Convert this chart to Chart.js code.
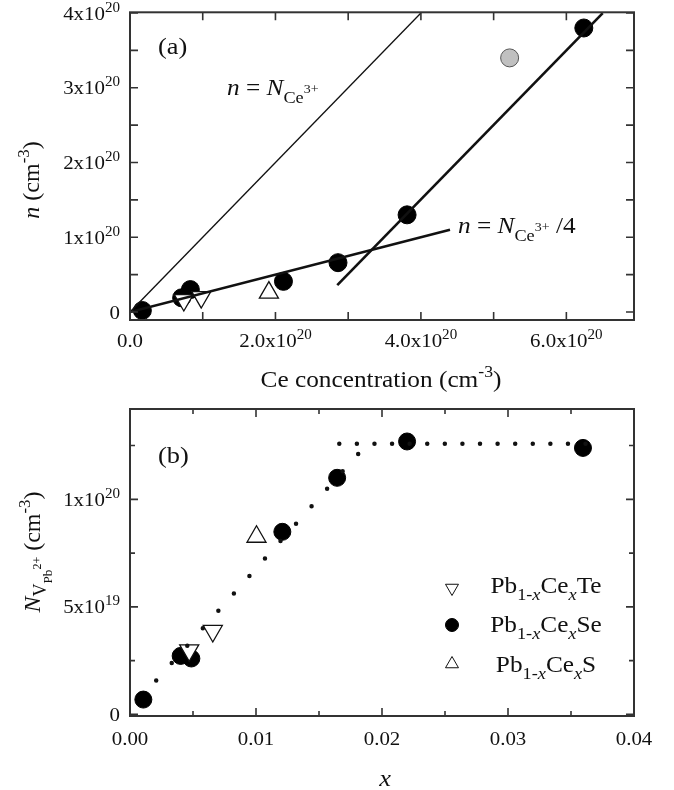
<!DOCTYPE html>
<html>
<head>
<meta charset="utf-8">
<title>Ce concentration / vacancies</title>
<script src="https://cdn.jsdelivr.net/npm/chart.js@4.4.1/dist/chart.umd.min.js"></script>
<style>
  body { margin: 0; background: #fff; }
  canvas { position: absolute; left: 0; }
  #chartA { top: 0; }
  #chartB { top: 395px; }
</style>
</head>
<body>
<canvas id="chartA" width="674" height="395"></canvas>
<canvas id="chartB" width="674" height="395"></canvas>
<script>
// ---------------- panel (a): n vs Ce concentration ----------------
const seA_x = [0.17e20, 0.71e20, 0.83e20, 2.11e20, 2.86e20, 3.81e20, 6.24e20];
const seA_y = [0.02e20, 0.19e20, 0.30e20, 0.41e20, 0.66e20, 1.30e20, 3.80e20];
const grayA_x = [5.22e20];
const grayA_y = [3.40e20];
const teA_x = [0.74e20, 0.98e20];
const teA_y = [0.16e20, 0.20e20];
const sA_x = [1.91e20];
const sA_y = [0.26e20];

// guide lines
const lineFull_x = [0, 4.0e20];
const lineFull_y = [0, 4.0e20];
const lineQuarter_x = [0, 4.4e20];
const lineQuarter_y = [0, 1.1e20];
const lineSteep_x = [2.85e20, 6.5e20];
const lineSteep_y = [0.36e20, 4.0e20];

const xTicksA = [0, 1e20, 2e20, 3e20, 4e20, 5e20, 6e20];
const xLabelsA = ['0.0', '', '2.0x10^20', '', '4.0x10^20', '', '6.0x10^20'];
const yTicksA = [0, 0.5e20, 1e20, 1.5e20, 2e20, 2.5e20, 3e20, 3.5e20, 4e20];
const yLabelsA = ['0', '', '1x10^20', '', '2x10^20', '', '3x10^20', '', '4x10^20'];

// ---------------- panel (b): N_V vs x ----------------
const seB_x = [0.00106, 0.00402, 0.00487, 0.01209, 0.01644, 0.02199, 0.03595];
const seB_y = [0.69e19, 2.72e19, 2.60e19, 8.49e19, 11.0e19, 12.69e19, 12.39e19];
const teB_x = [0.0047, 0.00657];
const teB_y = [2.98e19, 3.88e19];
const sB_x = [0.01004];
const sB_y = [8.26e19];

// dotted guide lines
const riseB_x = [0.00208, 0.01934];
const riseB_y = [1.575e19, 12.92e19];
const flatB_x = [0.01661, 0.03755];
const flatB_y = [12.58e19, 12.58e19];

const xTicksB = [0, 0.005, 0.01, 0.015, 0.02, 0.025, 0.03, 0.035, 0.04];
const xLabelsB = ['0.00', '', '0.01', '', '0.02', '', '0.03', '', '0.04'];
const yTicksB = [0, 2.5e19, 5e19, 7.5e19, 1e20, 1.25e20];
const yLabelsB = ['0', '', '5x10^19', '', '1x10^20', ''];

const FONT = '"Liberation Serif", "Times New Roman", Times, serif';
const STRETCH = 1.1; // the original figure is a bit wider than tall

function pts(xs, ys) {
  return xs.map((x, i) => ({ x: x, y: ys[i] }));
}

// text with italics / sub / superscripts
function drawRich(ctx, parts, x, y, size, align, k) {
  k = k || STRETCH;
  const font = p => (p.i ? 'italic ' : '') + (size * (p.s || 1)).toFixed(1) + 'px ' + FONT;
  let w = 0;
  parts.forEach(p => { ctx.font = font(p); w += ctx.measureText(p.t).width; });
  w *= k;
  const x0 = align === 'center' ? x - w / 2 : (align === 'right' ? x - w : x);
  ctx.save();
  ctx.translate(x0, y);
  ctx.scale(k, 1);
  ctx.textAlign = 'left';
  ctx.textBaseline = 'alphabetic';
  let cx = 0;
  parts.forEach(p => {
    ctx.font = font(p);
    ctx.fillText(p.t, cx, (p.dy || 0) * size);
    cx += ctx.measureText(p.t).width;
  });
  ctx.restore();
}

function tickParts(label) {
  const bits = label.split('^');
  const out = [{ t: bits[0] }];
  if (bits[1]) out.push({ t: bits[1], s: 0.72, dy: -0.42 });
  return out;
}

// box, inward ticks on all four sides, tick labels
const framePlugin = {
  id: 'frame',
  afterDatasetsDraw(chart, args, opts) {
    const ctx = chart.ctx;
    const a = chart.chartArea;
    const sx = chart.scales.x, sy = chart.scales.y;
    ctx.save();
    ctx.strokeStyle = '#333';
    ctx.lineWidth = 1.6;
    ctx.beginPath();
    sx.ticks.forEach((t, i) => {
      const px = sx.getPixelForValue(t.value);
      const len = opts.xLabels[i] ? opts.major : opts.minor;
      ctx.moveTo(px, a.bottom); ctx.lineTo(px, a.bottom - len);
      ctx.moveTo(px, a.top); ctx.lineTo(px, a.top + len);
    });
    sy.ticks.forEach((t, i) => {
      const py = sy.getPixelForValue(t.value);
      const len = opts.yLabels[i] ? opts.major : opts.minor;
      ctx.moveTo(a.left, py); ctx.lineTo(a.left + len, py);
      ctx.moveTo(a.right, py); ctx.lineTo(a.right - len, py);
    });
    ctx.stroke();
    ctx.lineWidth = 2;
    ctx.strokeRect(a.left, a.top, a.right - a.left, a.bottom - a.top);

    ctx.fillStyle = '#111';
    sx.ticks.forEach((t, i) => {
      if (!opts.xLabels[i]) return;
      drawRich(ctx, tickParts(opts.xLabels[i]), sx.getPixelForValue(t.value), a.bottom + opts.xBase, 19, 'center');
    });
    sy.ticks.forEach((t, i) => {
      if (!opts.yLabels[i]) return;
      drawRich(ctx, tickParts(opts.yLabels[i]), a.left - 10, sy.getPixelForValue(t.value) + 6.5, 19, 'right');
    });
    ctx.restore();
  }
};

function axisOpts(min, max, ticks, fit) {
  return {
    type: 'linear',
    min: min,
    max: max,
    grid: { display: false },
    border: { display: false },
    afterBuildTicks: scale => { scale.ticks = ticks.map(v => ({ value: v })); },
    afterFit: fit,
    ticks: { display: false }
  };
}

const circleStyle = { pointStyle: 'circle', backgroundColor: '#000', borderColor: '#000', borderWidth: 1 };
const triStyle = { pointStyle: 'triangle', backgroundColor: '#fff', borderColor: '#111', borderWidth: 1.3 };

// ---------- chart (a) ----------
const fullLabel = [{ t: 'n', i: 1 }, { t: ' = ' }, { t: 'N', i: 1 }, { t: 'Ce', s: 0.72, dy: 0.34 }, { t: '3+', s: 0.55, dy: -0.1 }];
const quarterLabel = fullLabel.concat([{ t: ' /4' }]);

const textA = {
  id: 'textA',
  afterDraw(chart) {
    const ctx = chart.ctx;
    ctx.save();
    ctx.fillStyle = '#111';
    drawRich(ctx, [{ t: '(a)' }], 158, 54, 24, 'left');
    drawRich(ctx, fullLabel, 227, 95, 23, 'left');
    drawRich(ctx, quarterLabel, 458, 233, 23, 'left');
    drawRich(ctx, [{ t: 'Ce concentration (cm' }, { t: '-3', s: 0.7, dy: -0.42 }, { t: ')' }], 381, 387, 23, 'center');
    ctx.translate(39, 180);
    ctx.rotate(-Math.PI / 2);
    drawRich(ctx, [{ t: 'n', i: 1 }, { t: ' (cm' }, { t: '-3', s: 0.7, dy: -0.42 }, { t: ')' }], 0, 0, 24, 'center', 1);
    ctx.restore();
  }
};

new Chart(document.getElementById('chartA'), {
  type: 'scatter',
  data: {
    datasets: [
      { data: pts(lineFull_x, lineFull_y), showLine: true, pointRadius: 0, borderColor: '#111', borderWidth: 1.3, order: 0 },
      { data: pts(lineQuarter_x, lineQuarter_y), showLine: true, pointRadius: 0, borderColor: '#111', borderWidth: 2.6, order: 0 },
      { data: pts(lineSteep_x, lineSteep_y), showLine: true, pointRadius: 0, borderColor: '#111', borderWidth: 2.6, order: 0 },
      Object.assign({ data: pts(teA_x, teA_y), pointRadius: 11, rotation: 180, order: 1 }, triStyle),
      Object.assign({ data: pts(sA_x, sA_y), pointRadius: 11, rotation: 0, order: 1 }, triStyle),
      Object.assign({ data: pts(seA_x, seA_y), pointRadius: 9, order: 2 }, circleStyle),
      { data: pts(grayA_x, grayA_y), pointStyle: 'circle', pointRadius: 9, backgroundColor: '#c0c0c0', borderColor: '#555', borderWidth: 1, order: 2 }
    ]
  },
  options: {
    responsive: false,
    animation: false,
    events: [],
    layout: { padding: { left: 0, right: 40, top: 12, bottom: 0 } },
    plugins: {
      legend: { display: false },
      tooltip: { enabled: false },
      frame: { major: 8, minor: 8, xBase: 27, xLabels: xLabelsA, yLabels: yLabelsA }
    },
    scales: {
      x: axisOpts(0, 6.93e20, xTicksA, s => { s.height = 75; }),
      y: axisOpts(-0.107e20, 4.01e20, yTicksA, s => { s.width = 130; })
    }
  },
  plugins: [framePlugin, textA]
});

// ---------- chart (b) ----------
const formula = end => [
  { t: 'Pb' }, { t: '1-', s: 0.72, dy: 0.3 }, { t: 'x', i: 1, s: 0.72, dy: 0.3 },
  { t: 'Ce' }, { t: 'x', i: 1, s: 0.72, dy: 0.3 }, { t: end }
];

const textB = {
  id: 'textB',
  afterDraw(chart) {
    const ctx = chart.ctx;
    ctx.save();
    ctx.fillStyle = '#111';
    drawRich(ctx, [{ t: '(b)' }], 158, 68, 24, 'left');
    drawRich(ctx, [{ t: 'x', i: 1 }], 385, 391, 24, 'center');

    // legend
    ctx.strokeStyle = '#111';
    ctx.fillStyle = '#fff';
    Chart.helpers.drawPoint(ctx, { pointStyle: 'triangle', radius: 7.5, rotation: 180, borderWidth: 1.3 }, 452, 193);
    Chart.helpers.drawPoint(ctx, { pointStyle: 'triangle', radius: 7.5, rotation: 0, borderWidth: 1.3 }, 452, 269);
    ctx.fillStyle = '#000';
    ctx.strokeStyle = '#000';
    Chart.helpers.drawPoint(ctx, { pointStyle: 'circle', radius: 6.5, rotation: 0, borderWidth: 1 }, 452, 230);
    ctx.fillStyle = '#111';
    drawRich(ctx, formula('Te'), 546, 198, 23, 'center');
    drawRich(ctx, formula('Se'), 546, 237, 23, 'center');
    drawRich(ctx, formula('S'), 546, 277, 23, 'center');

    ctx.translate(40, 157);
    ctx.rotate(-Math.PI / 2);
    drawRich(ctx, [
      { t: 'N', i: 1 }, { t: 'V', s: 0.75, dy: 0.25 }, { t: 'Pb', s: 0.55, dy: 0.5 }, { t: '2+', s: 0.5, dy: 0.05 },
      { t: ' (cm' }, { t: '-3', s: 0.7, dy: -0.42 }, { t: ')' }
    ], 0, 0, 24, 'center', 1);
    ctx.restore();
  }
};

new Chart(document.getElementById('chartB'), {
  type: 'scatter',
  data: {
    datasets: [
      { data: pts(riseB_x, riseB_y), showLine: true, pointRadius: 0, borderColor: '#111', borderWidth: 4.5,
        borderCapStyle: 'round', borderDash: [0, 23.35], order: 0 },
      { data: pts(flatB_x, flatB_y), showLine: true, pointRadius: 0, borderColor: '#111', borderWidth: 4.5,
        borderCapStyle: 'round', borderDash: [0, 17.59], order: 0 },
      Object.assign({ data: pts(teB_x, teB_y), pointRadius: 11, rotation: 180, order: 1 }, triStyle),
      Object.assign({ data: pts(sB_x, sB_y), pointRadius: 11, rotation: 0, order: 1 }, triStyle),
      Object.assign({ data: pts(seB_x, seB_y), pointRadius: 8.5, order: 2 }, circleStyle)
    ]
  },
  options: {
    responsive: false,
    animation: false,
    events: [],
    layout: { padding: { left: 0, right: 40, top: 14, bottom: 0 } },
    plugins: {
      legend: { display: false },
      tooltip: { enabled: false },
      frame: { major: 8, minor: 5, xBase: 29, xLabels: xLabelsB, yLabels: yLabelsB }
    },
    scales: {
      x: axisOpts(0, 0.04, xTicksB, s => { s.height = 74; }),
      y: axisOpts(-0.0074e20, 1.42e20, yTicksB, s => { s.width = 130; })
    }
  },
  plugins: [framePlugin, textB]
});
</script>
</body>
</html>
